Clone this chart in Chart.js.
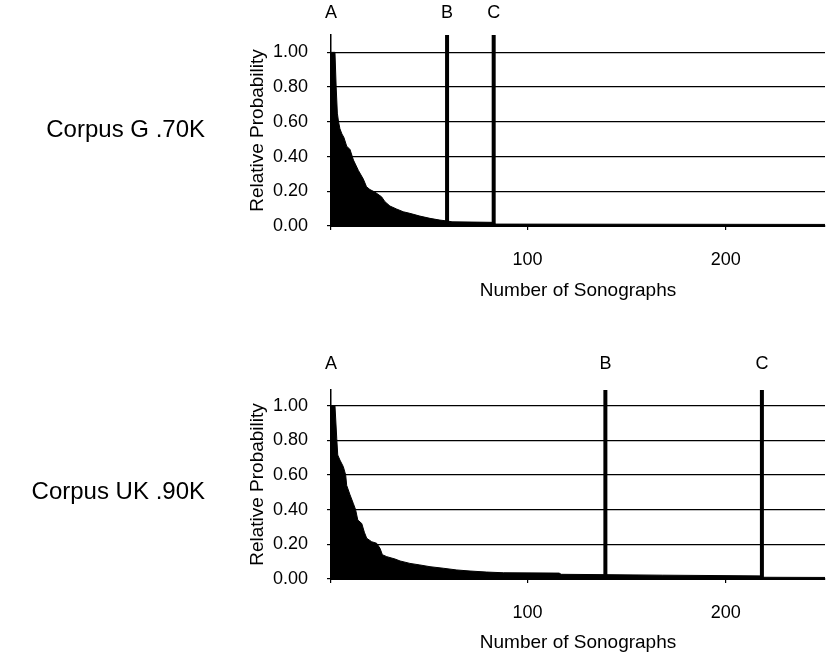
<!DOCTYPE html>
<html><head><meta charset="utf-8">
<script src="https://cdn.jsdelivr.net/npm/chart.js@4/dist/chart.umd.min.js"></script>
<style>
html,body{margin:0;padding:0;background:#fff;}
#wrap{position:relative;width:827px;height:660px;overflow:hidden;background:#fff;}
.c{position:absolute;left:0;width:827px;height:330px;}
</style></head><body>
<div id="wrap">
<div class="c" style="top:0"><canvas id="top" width="827" height="330"></canvas></div>
<div class="c" style="top:330px"><canvas id="bot" width="827" height="330"></canvas></div>
</div>
<script>
// ---- data ----
const gRank  = [1, 3, 3.6, 4.2, 4.8, 5.5, 6.5, 7.5, 8.9, 10.6, 12.3, 14.8, 17.3, 18.9, 20.6, 23.2, 26.5, 28.2, 30.7, 34, 37.4, 40.7, 45.8, 50.9, 55.9, 59.5, 62, 83, 84, 250];
const gProb  = [1.0, 1.0, 0.80, 0.65, 0.60, 0.56, 0.53, 0.51, 0.46, 0.44, 0.38, 0.32, 0.27, 0.226, 0.21, 0.195, 0.168, 0.14, 0.115, 0.098, 0.082, 0.073, 0.057, 0.044, 0.034, 0.029, 0.024, 0.021, 0.011, 0.009];
const ukRank = [1, 3, 3.9, 4.4, 5.5, 7.2, 8.4, 8.9, 10.6, 12.2, 13.4, 14.5, 16.5, 17.8, 19.0, 21.5, 24.0, 25.7, 26.9, 29.1, 33.3, 35.8, 40.8, 45.8, 50.9, 57.6, 64.4, 71.1, 79.5, 88, 116, 117, 140, 168, 218, 219, 250];
const ukProb = [1.0, 1.0, 0.81, 0.715, 0.686, 0.648, 0.60, 0.54, 0.485, 0.437, 0.40, 0.34, 0.32, 0.27, 0.235, 0.215, 0.206, 0.177, 0.14, 0.129, 0.115, 0.104, 0.09, 0.081, 0.071, 0.062, 0.052, 0.046, 0.04, 0.036, 0.034, 0.027, 0.025, 0.022, 0.018, 0.01, 0.009];
const gMarkers  = [1, 59.5, 83];
const ukMarkers = [1, 139.3, 218.2];
const markerLabels = ['A', 'B', 'C'];
const yTicks = [0, 0.2, 0.4, 0.6, 0.8, 1.0];
const xTicks = [100, 200];
const gTitle = 'Corpus G .70K';
const ukTitle = 'Corpus UK .90K';

const FAMILY = "'Liberation Sans', Arial, Helvetica, sans-serif";

function panel(canvasId, rank, prob, markers, corpusText, cfg) {
  const area = rank.map((r, i) => ({x: r, y: prob[i]}));
  const ds = [];
  markers.slice(1).forEach(m => ds.push({
    data: [{x: m, y: 0}, {x: m, y: cfg.yMax}],
    borderColor: '#000', borderWidth: 4, pointRadius: 0, fill: false, order: 0, borderCapStyle: 'butt'
  }));
  ds.push({data: area, fill: 'origin', backgroundColor: '#000', borderColor: '#000',
           borderWidth: 1, pointRadius: 0, tension: 0, order: 1});

  const labelPlugin = {
    id: 'panelLabels',
    afterDraw(chart) {
      const ctx = chart.ctx;
      ctx.save();
      ctx.fillStyle = '#000';
      ctx.font = '18px ' + FAMILY;
      ctx.textAlign = 'center';
      ctx.textBaseline = 'middle';
      markers.forEach((m, i) => {
        ctx.fillText(markerLabels[i], chart.scales.x.getPixelForValue(m), cfg.letterY);
      });
      ctx.font = '24px ' + FAMILY;
      ctx.textAlign = 'right';
      ctx.fillText(corpusText, cfg.corpusX, cfg.corpusY);
      ctx.restore();
    }
  };

  new Chart(document.getElementById(canvasId), {
    type: 'line',
    data: {datasets: ds},
    options: {
      responsive: false, animation: false, events: [],
      layout: {padding: {left: 240, right: 2, top: cfg.top, bottom: 0}},
      plugins: {legend: {display: false}, tooltip: {enabled: false}},
      scales: {
        x: {
          type: 'linear', min: 1, max: 250,
          afterBuildTicks: s => { s.ticks = [1].concat(xTicks).map(v => ({value: v})); },
          afterFit: s => { s.height = cfg.xAxisHeight; },
          ticks: {callback: v => xTicks.includes(v) ? String(v) : '', font: {family: FAMILY, size: 18},
                  color: '#000', padding: 19, maxRotation: 0, autoSkip: false},
          grid: {display: true, drawOnChartArea: false, drawTicks: true, tickLength: 4, color: '#000', lineWidth: 1.2},
          border: {display: true, color: '#000', width: 2},
          title: {display: true, text: 'Number of Sonographs', font: {family: FAMILY, size: 19}, color: '#000',
                  padding: {top: 0, bottom: cfg.xTitlePad}}
        },
        y: {
          min: 0, max: cfg.yMax,
          afterBuildTicks: s => { s.ticks = yTicks.map(v => ({value: v})); },
          afterFit: s => { s.width = 91; },
          ticks: {callback: v => Number(v).toFixed(2), font: {family: FAMILY, size: 18}, color: '#000', padding: 19},
          grid: {color: '#000', lineWidth: 1.2, tickLength: 4, drawTicks: true},
          border: {display: true, color: '#000', width: 1.5},
          title: {display: true, text: 'Relative Probability', font: {family: FAMILY, size: 19}, color: '#000',
                  padding: {top: 6, bottom: 0}}
        }
      }
    },
    plugins: [labelPlugin]
  });
}

panel('top', gRank, gProb, gMarkers, gTitle,
      {yMax: 1.1, top: 35, xAxisHeight: 104, xTitlePad: 28, letterY: 13.5, corpusX: 205, corpusY: 130});
panel('bot', ukRank, ukProb, ukMarkers, ukTitle,
      {yMax: 1.09, top: 60, xAxisHeight: 81, xTitlePad: 6, letterY: 34, corpusX: 205, corpusY: 492 - 330});
</script>
</body></html>
